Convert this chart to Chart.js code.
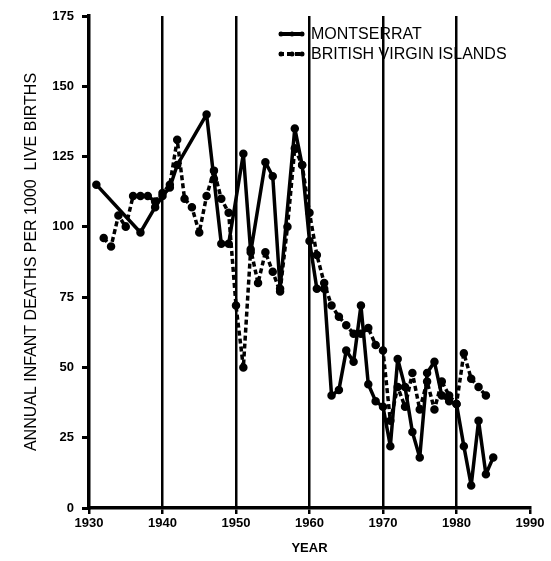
<!DOCTYPE html>
<html>
<head>
<meta charset="utf-8">
<script src="https://cdn.jsdelivr.net/npm/chart.js@4/dist/chart.umd.min.js"></script>
<style>
  body { margin: 0; background: #fff; }
  #wrap { width: 551px; height: 561px; }
</style>
</head>
<body>
<div id="wrap"><canvas id="chart" width="551" height="561"></canvas></div>
<script>
// values (deaths per 1000 live births)
const montserratYears = [1931, 1937, 1939, 1940, 1941, 1942, 1946, 1947, 1948, 1949,
  1951, 1952, 1954, 1955, 1956, 1958, 1959, 1960, 1961, 1962,
  1963, 1964, 1965, 1966, 1967, 1968, 1969, 1970, 1971, 1972,
  1973, 1974, 1975, 1976, 1977, 1978, 1979, 1980, 1981, 1982,
  1983, 1984, 1985];
const montserratRates = [115, 98, 107, 111, 114, 122, 140, 117, 94, 94,
  126, 91, 123, 118, 78, 135, 122, 95, 78, 78,
  40, 42, 56, 52, 72, 44, 38, 36, 22, 53,
  43, 27, 18, 48, 52, 40, 38, 37, 22, 8,
  31, 12, 18];

const bviYears = [1932, 1933, 1934, 1935, 1936, 1937, 1938, 1939, 1940, 1941,
  1942, 1943, 1944, 1945, 1946, 1947, 1948, 1949, 1950, 1951,
  1952, 1953, 1954, 1955, 1956, 1957, 1958, 1959, 1960, 1961,
  1962, 1963, 1964, 1965, 1966, 1967, 1968, 1969, 1970, 1971,
  1972, 1973, 1974, 1975, 1976, 1977, 1978, 1979, 1980, 1981,
  1982, 1983, 1984];
const bviRates = [96, 93, 104, 100, 111, 111, 111, 109, 112, 115,
  131, 110, 107, 98, 111, 120, 110, 105, 72, 50,
  92, 80, 91, 84, 77, 100, 128, 122, 105, 90,
  80, 72, 68, 65, 62, 62, 64, 58, 56, 31,
  43, 36, 48, 35, 45, 35, 45, 40, 37, 55,
  46, 43, 40];

const yearTicks = [1930, 1940, 1950, 1960, 1970, 1980, 1990];
const rateTicks = [0, 25, 50, 75, 100, 125, 150, 175];

const seriesLabels = ['MONTSERRAT', 'BRITISH VIRGIN ISLANDS'];

const toPoints = (xs, ys) => xs.map((x, i) => ({ x: x, y: ys[i] }));

const labelFont = "'Liberation Sans', Arial, sans-serif";
const narrowFont = "'Liberation Sans Narrow', 'Liberation Sans', Arial, sans-serif";

// legend drawn inside the plot, top right, like the original
const insideLegend = {
  id: 'insideLegend',
  afterDraw(chart) {
    const ctx = chart.ctx;
    const rows = [{ y: 34, dash: [] }, { y: 54, dash: [5, 3] }];
    ctx.save();
    chart.data.datasets.forEach((ds, i) => {
      const r = rows[i];
      ctx.strokeStyle = '#000';
      ctx.lineWidth = 4;
      ctx.setLineDash(r.dash);
      ctx.beginPath();
      ctx.moveTo(279, r.y);
      ctx.lineTo(304, r.y);
      ctx.stroke();
      ctx.setLineDash([]);
      ctx.fillStyle = '#000';
      [281, 292, 302].forEach(px => {
        ctx.beginPath();
        ctx.arc(px, r.y, 2.5, 0, Math.PI * 2);
        ctx.fill();
      });
      ctx.font = "16px " + narrowFont;
      ctx.textBaseline = 'middle';
      ctx.textAlign = 'left';
      ctx.fillText(ds.label, 311, r.y + 1);
    });
    ctx.restore();
  }
};

new Chart(document.getElementById('chart'), {
  type: 'line',
  data: {
    datasets: [
      {
        label: seriesLabels[0],
        data: toPoints(montserratYears, montserratRates),
        borderColor: '#000',
        backgroundColor: '#000',
        borderWidth: 3.5,
        borderJoinStyle: 'round',
        borderCapStyle: 'round',
        pointRadius: 2.5,
        pointHoverRadius: 2.5,
        tension: 0
      },
      {
        label: seriesLabels[1],
        data: toPoints(bviYears, bviRates),
        borderColor: '#000',
        backgroundColor: '#000',
        borderWidth: 3.5,
        borderDash: [5, 3],
        borderJoinStyle: 'round',
        pointRadius: 2.5,
        pointHoverRadius: 2.5,
        tension: 0
      }
    ]
  },
  options: {
    responsive: false,
    animation: false,
    layout: { padding: { top: 16, right: 21, left: 0, bottom: 0 } },
    plugins: {
      legend: { display: false },
      tooltip: { enabled: false }
    },
    scales: {
      x: {
        type: 'linear',
        min: 1930,
        max: 1990,
        afterFit: (scale) => { scale.height = 53; },
        afterBuildTicks: (scale) => { scale.ticks = yearTicks.map(v => ({ value: v })); },
        ticks: {
          color: '#000',
          font: { family: labelFont, size: 13, weight: 'bold' },
          padding: 2,
          maxRotation: 0,
          callback: (v) => String(v)
        },
        grid: {
          color: (c) => (c.tick && c.tick.value > 1930 && c.tick.value < 1990) ? '#000' : 'rgba(0,0,0,0)',
          tickColor: '#000',
          lineWidth: 2.5,
          tickLength: 6
        },
        border: { display: true, color: '#000', width: 3.5 },
        title: {
          display: true,
          text: 'YEAR',
          color: '#000',
          font: { family: labelFont, size: 13, weight: 'bold' },
          padding: { top: 0, bottom: 5 }
        }
      },
      y: {
        min: 0,
        max: 175,
        afterFit: (scale) => { scale.width = 89; },
        afterBuildTicks: (scale) => { scale.ticks = rateTicks.map(v => ({ value: v })); },
        ticks: {
          color: '#000',
          font: { family: labelFont, size: 13, weight: 'bold' },
          padding: 8
        },
        grid: {
          drawOnChartArea: false,
          tickColor: '#000',
          lineWidth: 3,
          tickLength: 7
        },
        border: { display: true, color: '#000', width: 3.5 },
        title: {
          display: true,
          text: 'ANNUAL INFANT DEATHS PER 1000  LIVE BIRTHS',
          color: '#000',
          font: { family: narrowFont, size: 16 },
          padding: { top: 22, bottom: 0 }
        }
      }
    }
  },
  plugins: [insideLegend]
});
</script>
</body>
</html>
